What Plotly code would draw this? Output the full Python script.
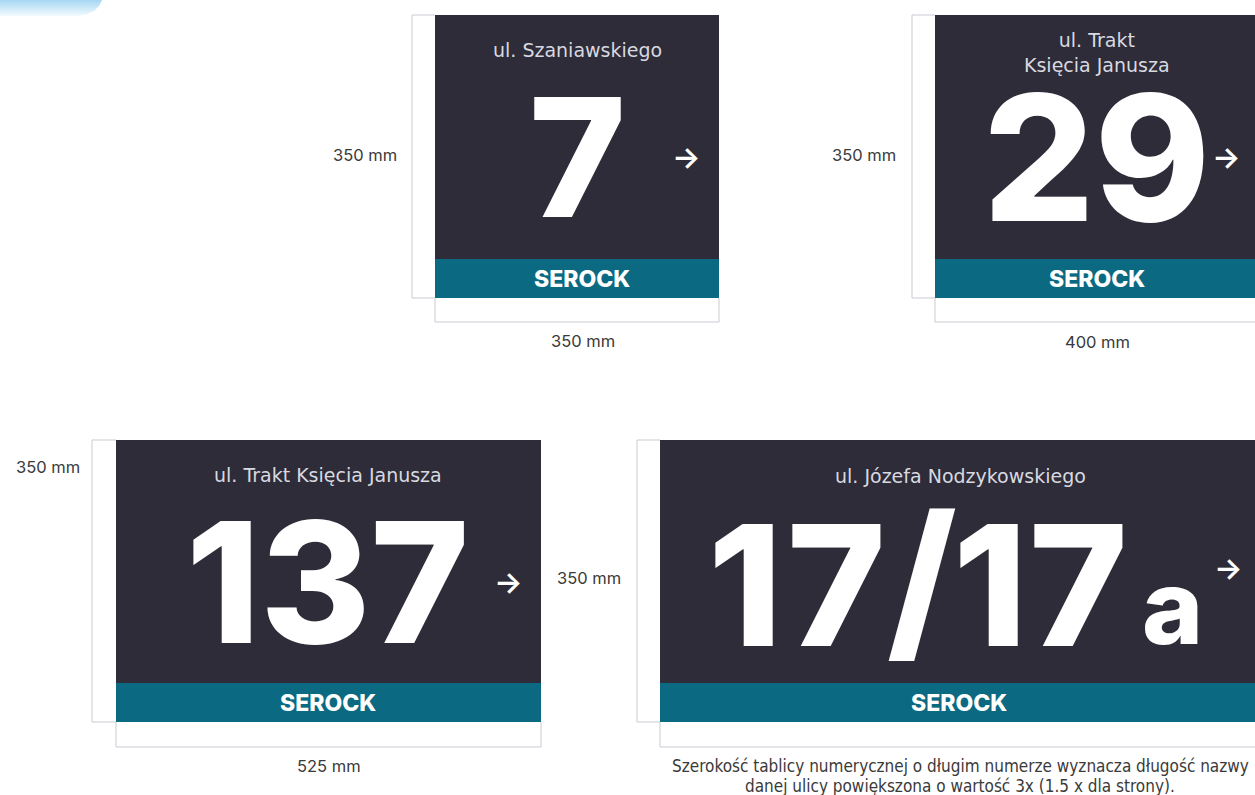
import plotly.graph_objects as go

# ---------------- content ----------------
street_names = ["ul. Szaniawskiego", "ul. Trakt<br>Księcia Janusza",
                "ul. Trakt Księcia Janusza", "ul. Józefa Nodzykowskiego"]
number_parts = [["7"], ["29"], ["137"], ["1", "7", "/", "1", "7", "a"]]
city_labels = ["SEROCK", "SEROCK", "SEROCK", "SEROCK"]
height_labels = ["350 mm", "350 mm", "350 mm", "350 mm"]
width_labels = ["350 mm", "400 mm", "525 mm", ""]
caption_lines = ["Szerokość tablicy numerycznej o długim numerze wyznacza długość nazwy",
                 "danej ulicy powiększona o wartość 3x (1.5 x dla strony)."]
arrow_symbol = "→"

# ---------------- layout geometry (pixel space) ----------------
W, H = 1255, 795
geom = [
    dict(x0=435, x1=719, y0=15, yb=259, y1=298, dimx=412, dimy=322, dimx1=719,
         hl=(365, 155), wl=(583, 341), st=(577, 50), sc=(582, 279),
         num=[(577, 157, 165)], arr=(686, 157)),
    dict(x0=935, x1=1275, y0=15, yb=259, y1=298, dimx=912, dimy=322, dimx1=1275,
         hl=(864, 155), wl=(1097, 342), st=(1097, 52), sc=(1097, 279),
         num=[(1096, 157, 175)], arr=(1226, 157)),
    dict(x0=116, x1=541, y0=440, yb=683, y1=722, dimx=92, dimy=747, dimx1=541,
         hl=(48, 467), wl=(329, 766), st=(328, 475), sc=(328, 703),
         num=[(327, 582, 168)], arr=(508, 582)),
    dict(x0=660, x1=1275, y0=440, yb=683, y1=722, dimx=637, dimy=747, dimx1=1275,
         hl=(589, 578), wl=(960, 766), st=(960, 476), sc=(959, 703),
         num=[(745, 585, 168), (836, 585, 168), (922, 578, 175),
              (990, 585, 168), (1078, 585, 168), (1172, 606, 104)],
         arr=(1228, 568)),
]

DARK = "#2d2c38"
TEAL = "#0b6a81"
DIM = "#cacbd3"
TXT = "#3a3a3a"
STREET = "#d9d9e0"

fig = go.Figure()

# top-left light-blue blob
fig.add_trace(go.Scatter(
    x=[0, 102, 99, 94, 86, 78, 0, 0], y=[0, 0, 6, 11, 14.5, 16, 16, 0],
    mode="lines", line=dict(width=0), fill="toself",
    fillgradient=dict(type="vertical", start=0, stop=16,
                      colorscale=[[0, "#a6d6f3"], [1, "#f3fafe"]]),
    hoverinfo="skip", showlegend=False))

shapes = []
ann = []
for i, g in enumerate(geom):
    # sign body
    shapes.append(dict(type="rect", x0=g["x0"], x1=g["x1"], y0=g["y0"], y1=g["yb"],
                       fillcolor=DARK, line=dict(width=0), layer="below"))
    shapes.append(dict(type="rect", x0=g["x0"], x1=g["x1"], y0=g["yb"], y1=g["y1"],
                       fillcolor=TEAL, line=dict(width=0), layer="below"))
    # dimension lines
    ln = dict(color=DIM, width=1)
    shapes.append(dict(type="line", x0=g["dimx"], x1=g["dimx"], y0=g["y0"], y1=g["y1"], line=ln))
    shapes.append(dict(type="line", x0=g["dimx"], x1=g["x0"], y0=g["y0"], y1=g["y0"], line=ln))
    shapes.append(dict(type="line", x0=g["dimx"], x1=g["x0"], y0=g["y1"], y1=g["y1"], line=ln))
    shapes.append(dict(type="line", x0=g["x0"], x1=g["dimx1"], y0=g["dimy"], y1=g["dimy"], line=ln))
    shapes.append(dict(type="line", x0=g["x0"], x1=g["x0"], y0=g["y1"], y1=g["dimy"], line=ln))
    shapes.append(dict(type="line", x0=g["x1"], x1=g["x1"], y0=g["y1"], y1=g["dimy"], line=ln))

    # street name
    ann.append(dict(x=g["st"][0], y=g["st"][1], text=street_names[i], showarrow=False,
                    xanchor="center", yanchor="middle",
                    font=dict(family="DejaVu Sans", size=19, color=STREET)))
    # house number glyphs
    for part, (px, py, ps) in zip(number_parts[i], g["num"]):
        ann.append(dict(x=px, y=py, text=part, showarrow=False, xanchor="center", yanchor="middle",
                        font=dict(family="Inter", size=ps, color="white", weight=800)))
    # arrow
    ann.append(dict(x=g["arr"][0], y=g["arr"][1], text=arrow_symbol, showarrow=False,
                    xanchor="center", yanchor="middle",
                    font=dict(family="Inter", size=30, color="white", weight=600)))
    # city band label
    ann.append(dict(x=g["sc"][0], y=g["sc"][1], text=city_labels[i], showarrow=False,
                    xanchor="center", yanchor="middle",
                    font=dict(family="Inter", size=23, color="white", weight=800)))
    # dimension labels
    ann.append(dict(x=g["hl"][0], y=g["hl"][1], text=height_labels[i], showarrow=False,
                    xanchor="center", yanchor="middle",
                    font=dict(family="Inter", size=16.5, color=TXT)))
    if width_labels[i]:
        ann.append(dict(x=g["wl"][0], y=g["wl"][1], text=width_labels[i], showarrow=False,
                        xanchor="center", yanchor="middle",
                        font=dict(family="Inter", size=16.5, color=TXT)))

for k, line in enumerate(caption_lines):
    ann.append(dict(x=960, y=766 + 20 * k, text=line, showarrow=False,
                    xanchor="center", yanchor="middle",
                    font=dict(family="DejaVu Sans Condensed, Roboto, sans-serif",
                              size=17, color=TXT)))

fig.update_layout(
    width=W, height=H, margin=dict(l=0, r=0, t=0, b=0),
    paper_bgcolor="white", plot_bgcolor="white",
    xaxis=dict(range=[0, W], visible=False, fixedrange=True),
    yaxis=dict(range=[H, 0], visible=False, fixedrange=True),
    shapes=shapes, annotations=ann, showlegend=False,
)

fig.write_html("out.html", config={"displayModeBar": False},
               post_script="document.body.style.margin='0';document.body.style.overflow='hidden';")
